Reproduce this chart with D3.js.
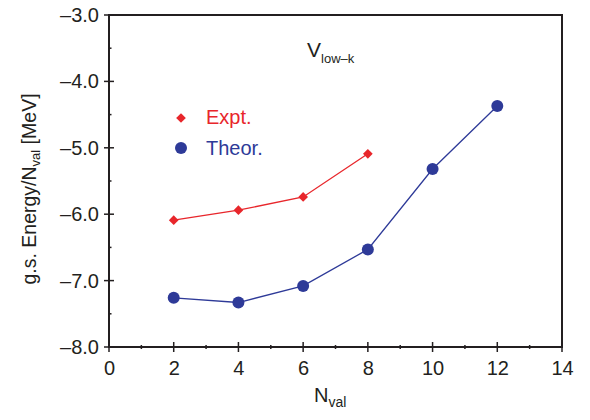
<!DOCTYPE html>
<html>
<head>
<meta charset="utf-8">
<script src="https://cdn.jsdelivr.net/npm/d3@7"></script>
<style>
  body { margin: 0; background: #fff; }
  svg { font-family: "Liberation Sans", Arial, sans-serif; }
</style>
</head>
<body>
<svg width="590" height="420"></svg>
<script>
// data
var exptN = [2, 4, 6, 8];
var exptE = [-6.09, -5.94, -5.74, -5.09];
var theorN = [2, 4, 6, 8, 10, 12];
var theorE = [-7.26, -7.33, -7.08, -6.53, -5.32, -4.37];
var xTicks = [0, 2, 4, 6, 8, 10, 12, 14];
var yTicks = [-8, -7, -6, -5, -4, -3];

var red = '#e8262b';
var blue = '#2e3a98';
var ink = '#231f20';

var svg = d3.select('svg');
var m = {left: 109, top: 15, right: 562, bottom: 347};

var x = d3.scaleLinear().domain([0, 14]).range([m.left, m.right]);
var y = d3.scaleLinear().domain([-8, -3]).range([m.bottom, m.top]);

function fmt(v) { return (v < 0 ? '\u2013' : '') + Math.abs(v).toFixed(1); }

// frame
svg.append('rect')
    .attr('x', m.left).attr('y', m.top)
    .attr('width', m.right - m.left).attr('height', m.bottom - m.top)
    .attr('fill', 'none').attr('stroke', ink).attr('stroke-width', 2);

// bottom axis
var xAx = svg.append('g').attr('transform', 'translate(0,' + m.bottom + ')')
    .call(d3.axisBottom(x).tickValues(xTicks).tickSize(0).tickPadding(14)
        .tickFormat(d3.format('d')));
xAx.select('.domain').remove();
xAx.selectAll('text').attr('font-size', 20).attr('fill', ink)
    .attr('font-family', '"Liberation Sans", Arial, sans-serif');
svg.append('g').selectAll('line').data(d3.range(0, 15))
    .enter().append('line')
    .attr('x1', function (d) { return x(d); }).attr('x2', function (d) { return x(d); })
    .attr('y1', function (d) { return m.bottom - (d % 2 ? 2 : 5); })
    .attr('y2', function (d) { return m.bottom + (d % 2 ? 2 : 5); })
    .attr('stroke', ink).attr('stroke-width', 1.5);

// left axis
var yAx = svg.append('g').attr('transform', 'translate(' + m.left + ',0)')
    .call(d3.axisLeft(y).tickValues(yTicks).tickSize(0).tickPadding(10).tickFormat(fmt));
yAx.select('.domain').remove();
yAx.selectAll('text').attr('font-size', 20).attr('fill', ink)
    .attr('font-family', '"Liberation Sans", Arial, sans-serif');
svg.append('g').selectAll('line').data(d3.range(-8, -2.9, 0.5))
    .enter().append('line')
    .attr('y1', function (d) { return y(d); }).attr('y2', function (d) { return y(d); })
    .attr('x1', function (d, i) { return m.left - (i % 2 ? 0 : 5); })
    .attr('x2', function (d, i) { return m.left + (i % 2 ? 2.5 : 5); })
    .attr('stroke', ink).attr('stroke-width', 1.5);

// axis titles
var xt = svg.append('text').attr('x', 314).attr('y', 402).attr('font-size', 20)
    .attr('fill', ink);
xt.append('tspan').text('N');
xt.append('tspan').attr('font-size', 14).attr('dy', 5).text('val');

var yt = svg.append('text').attr('transform', 'translate(36,189) rotate(-90)')
    .attr('text-anchor', 'middle').attr('font-size', 19.5).attr('fill', ink);
yt.append('tspan').text('g.s. Energy/N');
yt.append('tspan').attr('font-size', 13).attr('dy', 4).text('val');
yt.append('tspan').attr('dy', -4).text(' [MeV]');

// V_low-k label
var vl = svg.append('text').attr('x', 307).attr('y', 57).attr('font-size', 21)
    .attr('fill', ink);
vl.append('tspan').text('V');
vl.append('tspan').attr('font-size', 13).attr('dy', 6).text('low\u2013k');

// lines
var line = d3.line().x(function (d) { return x(d[0]); }).y(function (d) { return y(d[1]); });
var expt = d3.zip(exptN, exptE);
var theor = d3.zip(theorN, theorE);

svg.append('path').datum(expt).attr('d', line)
    .attr('fill', 'none').attr('stroke', red).attr('stroke-width', 1.3);
svg.append('path').datum(theor).attr('d', line)
    .attr('fill', 'none').attr('stroke', blue).attr('stroke-width', 1.3);

var diamond = d3.symbol().type(d3.symbolDiamond2).size(60);
svg.append('g').selectAll('path').data(expt).enter().append('path')
    .attr('d', diamond)
    .attr('transform', function (d) { return 'translate(' + x(d[0]) + ',' + y(d[1]) + ')'; })
    .attr('fill', red);
svg.append('g').selectAll('circle').data(theor).enter().append('circle')
    .attr('cx', function (d) { return x(d[0]); }).attr('cy', function (d) { return y(d[1]); })
    .attr('r', 6).attr('fill', blue);

// legend
svg.append('path').attr('d', diamond)
    .attr('transform', 'translate(181,118)').attr('fill', red);
svg.append('text').attr('x', 206).attr('y', 124).attr('font-size', 20)
    .attr('fill', red).text('Expt.');
svg.append('circle').attr('cx', 181).attr('cy', 148).attr('r', 6).attr('fill', blue);
svg.append('text').attr('x', 206).attr('y', 155).attr('font-size', 20)
    .attr('fill', blue).text('Theor.');
</script>
</body>
</html>
